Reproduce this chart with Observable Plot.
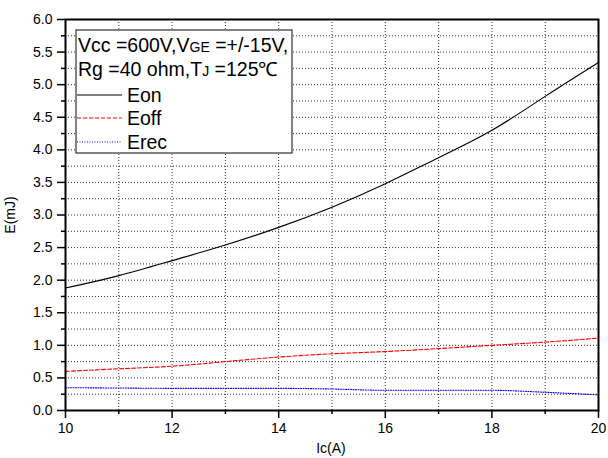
<!DOCTYPE html>
<html><head><meta charset="utf-8">
<script src="https://cdn.jsdelivr.net/npm/d3@7"></script>
<script src="https://cdn.jsdelivr.net/npm/@observablehq/plot@0.6"></script>
<style>
body{margin:0;background:#fff;font-family:"Liberation Sans",Arial,sans-serif}
#wrap{position:relative;width:608px;height:458px}
</style>
</head><body><div id="wrap"></div>
<script>
const ic = [10, 11, 12, 13, 14, 15, 16, 17, 18, 19, 20];
const eon = [1.88, 2.07, 2.30, 2.54, 2.81, 3.12, 3.48, 3.88, 4.30, 4.82, 5.34];
const eoff = [0.60, 0.64, 0.68, 0.75, 0.82, 0.87, 0.905, 0.95, 1.00, 1.05, 1.11];
const erec = [0.35, 0.345, 0.34, 0.34, 0.34, 0.33, 0.31, 0.31, 0.31, 0.28, 0.24];
const xMajor = [10, 12, 14, 16, 18, 20];
const xMinor = [11, 13, 15, 17, 19];
const yMajor = [0, 0.5, 1, 1.5, 2, 2.5, 3, 3.5, 4, 4.5, 5, 5.5, 6];
const yMinor = [0.25, 0.75, 1.25, 1.75, 2.25, 2.75, 3.25, 3.75, 4.25, 4.75, 5.25, 5.75];
const xGrid = [11, 12, 13, 14, 15, 16, 17, 18, 19];
const yGrid = [0.25, 0.5, 0.75, 1, 1.25, 1.5, 1.75, 2, 2.25, 2.5, 2.75, 3, 3.25, 3.5, 3.75, 4, 4.25, 4.5, 4.75, 5, 5.25, 5.5, 5.75];

const rows = (ys) => ic.map((x, i) => ({x, y: ys[i]}));
const font = '"Liberation Sans",Arial,sans-serif';

const chart = Plot.plot({
  width: 608, height: 458,
  marginLeft: 65, marginRight: 10, marginTop: 19, marginBottom: 48,
  style: {fontFamily: font, background: "#fff", color: "#000"},
  x: {domain: [10, 20]},
  y: {domain: [0, 6]},
  marks: [
    Plot.ruleX(xGrid, {stroke: "#000", strokeOpacity: 0.8, strokeWidth: 1, strokeDasharray: "1,2"}),
    Plot.ruleY(yGrid, {stroke: "#000", strokeOpacity: 0.8, strokeWidth: 1, strokeDasharray: "1,2"}),
    Plot.line(rows(eon), {x: "x", y: "y", stroke: "#000", strokeWidth: 1.1, curve: "natural"}),
    Plot.line(rows(eoff), {x: "x", y: "y", stroke: "#ff0000", strokeWidth: 1.1, strokeDasharray: "4,2", curve: "natural"}),
    Plot.line(rows(erec), {x: "x", y: "y", stroke: "#0000ff", strokeWidth: 1.1, strokeDasharray: "1,1.5", curve: "monotone-x"}),
    Plot.axisX(xMajor, {tickSize: 8, tickPadding: 5, fontSize: 14, label: null, strokeWidth: 1.5}),
    Plot.axisX(xMinor, {tickSize: 4, text: null, label: null, strokeWidth: 1.5}),
    Plot.axisY(yMajor, {tickSize: 8, tickPadding: 5, fontSize: 14, label: null, tickFormat: d3.format(".1f"), strokeWidth: 1.5}),
    Plot.axisY(yMinor, {tickSize: 4, text: null, label: null, strokeWidth: 1.5}),
    Plot.frame({stroke: "#000", strokeWidth: 2})
  ]
});
document.getElementById("wrap").appendChild(chart);

const svg = d3.select(chart);
// axis titles
svg.append("text").attr("x", 331).attr("y", 453).attr("text-anchor", "middle")
  .style("font-size", "14px").style("font-family", font).text("Ic(A)");
svg.append("text").attr("transform", "translate(15,215) rotate(-90)").attr("text-anchor", "middle")
  .style("font-size", "14px").style("font-family", font).text("E(mJ)");

// legend
const g = svg.append("g").style("font-family", font).style("font-size", "19.5px").attr("text-anchor", "start");
g.append("rect").attr("x", 76).attr("y", 30).attr("width", 216).attr("height", 123)
  .attr("fill", "#fff").attr("stroke", "#333").attr("stroke-width", 1.2);
const t1 = g.append("text").attr("x", 78).attr("y", 52).attr("text-anchor", "start");
t1.append("tspan").text("Vcc =600V,V");
t1.append("tspan").style("font-size", "14px").text("GE");
t1.append("tspan").text(" =+/-15V,");
const t2 = g.append("text").attr("x", 78).attr("y", 76).attr("text-anchor", "start");
t2.append("tspan").text("R");
t2.append("tspan").text("g");
t2.append("tspan").text(" =40 ohm,T");
t2.append("tspan").style("font-size", "14px").text("J");
t2.append("tspan").text(" =125℃");
const items = [
  {name: "Eon", stroke: "#000", dash: null, y: 95},
  {name: "Eoff", stroke: "#ff0000", dash: "4,2", y: 118},
  {name: "Erec", stroke: "#0000ff", dash: "1,1.5", y: 142}
];
items.forEach(it => {
  g.append("line").attr("x1", 77).attr("x2", 122).attr("y1", it.y).attr("y2", it.y)
    .attr("stroke", it.stroke).attr("stroke-width", 1.1).attr("stroke-dasharray", it.dash);
  g.append("text").attr("x", 127).attr("y", it.y + 7).attr("text-anchor", "start").text(it.name);
});
</script>
</body></html>
